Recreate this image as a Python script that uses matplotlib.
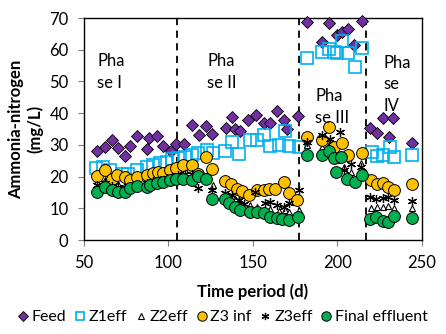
"""
Ammonia-nitrogen across the four operating phases, one series per sampling point.
"""

import matplotlib

matplotlib.use("Agg")
from matplotlib import pyplot as plt

plt.rcParams["font.family"] = ["Lato", "DejaVu Sans"]

# phase boundaries (d)
phase_breaks = [105, 177, 217]
phase_labels = ["Pha\nse I", "Pha\nse II", "Pha\nse III", "Pha\nse\nIV"]
phase_label_x = [58, 123, 187, 227]
phase_label_y = [59, 59, 48, 58.5]

# Feed
feed_days = [57.5, 62.5, 66.4, 70.4, 74.3, 77.3, 81.6, 87.2, 88.7, 93.5, 97.0, 101.4,
             104.6, 109.5, 114.2, 118.4, 122.2, 126.1, 134.0, 137.6, 139.6, 142.5, 147.4,
             151.7, 156.3, 159.9, 164.1, 168.2, 170.2, 176.7,
             182.1, 191.0, 195.3, 199.5, 202.8, 206.2, 210.1, 214.7,
             219.2, 223.2, 227.2, 230.5, 233.1, 244.0]
feed = [28.2, 29.4, 31.7, 28.9, 26.5, 29.6, 32.8, 28.6, 32.1, 32.8, 29.7, 28.2,
        30.3, 30.3, 36.3, 33.1, 35.9, 33.3, 35.5, 38.9, 34.9, 34.4, 37.8,
        39.5, 37.0, 37.0, 40.6, 37.8, 34.9, 39.1,
        68.9, 62.5, 68.3, 64.6, 65.7, 66.5, 61.5, 69.2,
        35.5, 33.8, 38.4, 32.6, 38.4, 30.7]

# Z1 effluent
z1_days = [57.1, 61.5, 65.4, 72.3, 76.3, 81.2, 87.2, 91.1, 95.1, 99.0, 102.0, 105.9,
           109.9, 113.9, 117.8, 122.8, 126.7, 133.6, 137.6, 141.5, 148.5, 152.4, 156.3,
           160.3, 165.2, 168.8, 171.2, 177.1,
           182.1, 191.0, 194.9, 197.9, 199.9, 202.8, 206.4, 210.3, 214.7,
           220.2, 223.6, 226.9, 230.9, 233.5, 244.4]
z1_eff = [22.6, 23.1, 22.1, 21.0, 21.0, 22.1, 23.1, 23.6, 24.2, 24.7, 25.5, 25.8,
          26.3, 26.8, 27.4, 28.4, 27.5, 28.2, 31.0, 27.3, 31.7, 31.5, 33.1,
          29.6, 30.0, 34.5, 29.6, 29.4,
          57.3, 59.4, 60.1, 59.4, 58.9, 62.9, 59.1, 54.5, 60.5,
          27.9, 26.5, 26.8, 29.4, 26.3, 26.8]

# Z2 effluent
z2_days = [57.5, 62.5, 66.4, 70.4, 74.3, 77.3, 81.6, 87.2, 91.1, 95.1, 99.0, 102.0,
           105.9, 109.9, 113.9, 117.8, 122.8, 126.7, 133.6, 137.6, 141.5, 148.5, 152.4,
           156.3, 160.3, 165.2, 168.8, 171.2, 177.1,
           182.1, 191.0, 195.9, 198.9, 203.7, 207.8, 213.7,
           219.6, 223.6, 226.9, 230.1, 233.5, 244.4]
z2_eff = [18.5, 19.0, 18.0, 17.8, 17.5, 18.2, 18.5, 18.8, 19.5, 19.8, 20.2, 20.8,
          21.5, 22.0, 24.5, 20.0, 20.5, 17.5, 14.5, 13.8, 12.5, 11.0, 10.5,
          9.5, 9.8, 9.2, 9.5, 9.0, 9.5,
          30.0, 29.5, 30.5, 25.2, 23.0, 21.5, 24.2,
          10.2, 10.6, 10.4, 10.8, 10.2, 10.2]

# Z3 influent
z3in_days = [57.5, 62.5, 66.4, 69.4, 74.3, 77.3, 81.6, 87.2, 91.1, 94.1, 97.0, 101.0,
             104.6, 108.9, 113.9, 117.8, 122.4, 126.1, 133.6, 137.2, 140.6, 143.5, 147.5,
             152.4, 156.4, 159.3, 163.3, 168.2, 171.2, 176.1,
             182.1, 191.0, 194.9, 197.9, 202.8, 206.4, 214.7,
             219.6, 223.6, 226.9, 230.1, 233.5, 244.4]
z3_inf = [20.3, 22.1, 19.4, 20.5, 20.0, 18.9, 19.8, 20.5, 21.2, 21.5, 21.2, 22.1,
          22.6, 23.7, 23.7, 21.0, 26.1, 22.3, 18.7, 17.7, 16.0, 15.6, 14.2,
          15.8, 15.8, 16.0, 16.0, 18.4, 14.9, 12.6,
          32.6, 31.5, 35.7, 29.4, 30.7, 26.8, 27.5,
          18.9, 17.7, 17.9, 16.8, 15.8, 17.7]

# Z3 effluent
z3_days = [57.5, 62.5, 66.4, 70.4, 74.3, 77.3, 81.6, 87.2, 91.1, 95.1, 99.0, 102.0,
           105.9, 109.9, 113.9, 117.8, 125.7, 133.6, 137.6, 141.5, 145.0, 151.4, 157.4,
           160.3, 164.3, 168.2, 171.2, 177.1,
           182.1, 191.0, 195.9, 201.8, 203.7, 207.8, 213.7,
           219.0, 223.0, 226.9, 230.1, 233.5, 244.4]
z3_eff = [17.5, 18.0, 17.0, 16.8, 16.5, 17.2, 17.5, 18.0, 18.5, 19.0, 19.5, 20.0,
          20.5, 20.8, 21.0, 16.3, 15.8, 15.0, 14.2, 12.5, 11.5, 15.2, 11.6,
          12.1, 11.0, 10.5, 11.6, 15.8,
          31.0, 33.0, 32.0, 34.2, 22.0, 24.0, 23.0,
          13.6, 13.0, 13.3, 13.5, 12.8, 12.2]

# Final effluent
final_days = [57.5, 62.5, 66.4, 70.4, 74.3, 77.3, 81.6, 87.2, 89.1, 93.1, 97.0, 101.0,
              104.6, 108.9, 113.9, 117.8, 122.2, 125.7, 133.6, 135.6, 139.2, 142.5, 148.5,
              152.4, 156.4, 160.3, 164.3, 167.3, 171.2, 176.7,
              182.1, 191.0, 194.9, 197.9, 198.9, 202.4, 205.8, 210.3, 214.7,
              219.0, 223.0, 226.9, 230.1, 233.5, 244.4]
final_eff = [15.2, 16.8, 15.8, 15.2, 15.2, 16.3, 17.0, 16.8, 17.3, 17.9, 18.4, 18.9,
             19.4, 19.4, 18.9, 20.2, 19.4, 13.1, 13.1, 11.6, 10.5, 9.5, 8.9,
             8.9, 8.4, 7.4, 7.1, 6.8, 6.3, 7.4,
             26.8, 26.8, 28.2, 25.8, 21.5, 26.3, 19.4, 18.4, 20.5,
             6.8, 7.4, 6.1, 5.8, 7.6, 7.1]

fig = plt.figure(figsize=(4.46, 3.34), dpi=100)
ax = fig.add_axes([0.188, 0.281, 0.758, 0.665])

for x in phase_breaks:
    ax.plot([x, x], [0, 70], color="black", ls=(0, (4, 3)), lw=1.3, zorder=1)

ax.plot(feed_days, feed, ls="none", marker="D", ms=6.5, mfc="#7030A0", mec="black",
        mew=0.6, label="Feed", clip_on=False, zorder=3)
ax.plot(z1_days, z1_eff, ls="none", marker="s", ms=8, mfc="none", mec="#00B0F0",
        mew=1.2, label="Z1eff", clip_on=False, zorder=3)
ax.plot(z2_days, z2_eff, ls="none", marker="^", ms=5, mfc="white", mec="black",
        mew=0.8, label="Z2eff", zorder=3)
ax.plot(z3in_days, z3_inf, ls="none", marker="o", ms=8.5, mfc="#FFC000", mec="black",
        mew=0.7, label="Z3 inf", zorder=4)
ax.plot(z3_days, z3_eff, ls="none", marker=(6, 2, 0), ms=6.5, mec="black",
        mew=0.9, label="Z3eff", zorder=4)
ax.plot(final_days, final_eff, ls="none", marker="o", ms=8.5, mfc="#00B050", mec="black",
        mew=0.7, label="Final effluent", zorder=5)

for txt, x, y in zip(phase_labels, phase_label_x, phase_label_y):
    ax.text(x, y, txt, fontsize=12, va="top", ha="left", linespacing=1.45, zorder=6)

ax.set_xlim(50, 250)
ax.set_ylim(0, 70)
ax.set_xticks(range(50, 251, 50))
ax.set_yticks(range(0, 71, 10))
ax.tick_params(labelsize=12, length=4, pad=7, direction="out", color="#808080")
for side in ax.spines.values():
    side.set_color("black")
    side.set_linewidth(1.0)

ax.set_xlabel("Time period (d)", fontsize=12, fontweight="bold", labelpad=9)
ax.set_ylabel("Ammonia-nitrogen\n(mg/L)", fontsize=12, fontweight="bold", labelpad=4)

fig.legend(loc="lower center", bbox_to_anchor=(0.5, 0.0), ncol=6, frameon=False,
           fontsize=11.5, handlelength=0.6, handletextpad=0.25, columnspacing=0.55,
           markerscale=0.8, borderaxespad=0.2)

plt.savefig("out.png", dpi=100)
